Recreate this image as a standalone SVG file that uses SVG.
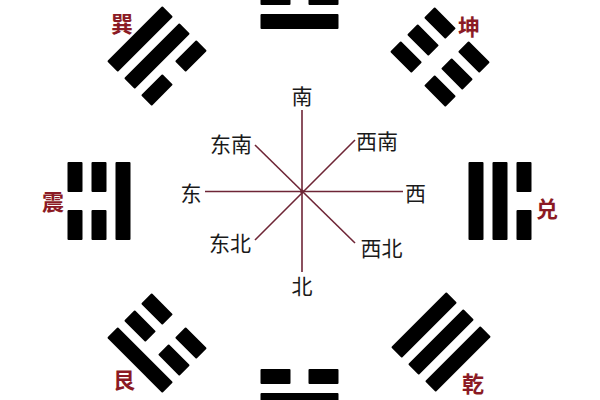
<svg xmlns="http://www.w3.org/2000/svg" xmlns:xlink="http://www.w3.org/1999/xlink" width="600" height="400" viewBox="0 0 600 400">
<style>
.bar{fill:#000}
.gua{font-family:"Noto Sans CJK SC","Noto Sans CJK TC",serif;font-size:22px;font-weight:bold;fill:#8b1a24;text-anchor:middle;dominant-baseline:central}
.dir{font-family:"Noto Sans CJK SC","Noto Sans",sans-serif;font-size:21px;fill:#1a1a1a;text-anchor:middle;dominant-baseline:central}
.ray{stroke:#6e2536;stroke-width:1.6;fill:none}
</style>
<defs>
<rect id="yang" class="bar" x="-39" y="-7.5" width="78" height="15" rx="1"/>
<g id="yin"><rect class="bar" x="-39" y="-7.5" width="30" height="15" rx="1"/><rect class="bar" x="9" y="-7.5" width="30" height="15" rx="1"/></g>
</defs>
<rect width="600" height="400" fill="#fff"/>
<g id="connectors">
<line class="ray" x1="302" y1="110" x2="302" y2="272"/>
<line class="ray" x1="205" y1="191.5" x2="403" y2="191.5"/>
<line class="ray" x1="255" y1="145" x2="355" y2="243"/>
<line class="ray" x1="355" y1="140" x2="255" y2="240"/>
<circle cx="302" cy="191.5" r="2" fill="#6e2536"/>
</g>
<g id="directions">
<text class="dir" x="302" y="95">南</text>
<text class="dir" x="231" y="142.5">东南</text>
<text class="dir" x="377" y="140">西南</text>
<text class="dir" x="191" y="192">东</text>
<text class="dir" x="415.5" y="192">西</text>
<text class="dir" x="230" y="242">东北</text>
<text class="dir" x="381.5" y="247">西北</text>
<text class="dir" x="302" y="285">北</text>
</g>
<g id="south" transform="translate(299.5,-2.5)">
<use xlink:href="#yin" y="0"/>
<use xlink:href="#yang" y="24"/>
</g>
<g id="north" transform="translate(299.5,400.5) rotate(180)">
<use xlink:href="#yang" y="0"/>
<use xlink:href="#yin" y="24"/>
</g>
<g id="zhen">
<g transform="translate(99,201) rotate(-90)">
<use xlink:href="#yin" y="-24"/>
<use xlink:href="#yin" y="0"/>
<use xlink:href="#yang" y="24"/>
</g>
<text class="gua" x="53" y="200">震</text>
</g>
<g id="dui">
<g transform="translate(500,201) rotate(90)">
<use xlink:href="#yin" y="-24"/>
<use xlink:href="#yang" y="0"/>
<use xlink:href="#yang" y="24"/>
</g>
<text class="gua" x="547" y="207">兑</text>
</g>
<g id="xun">
<g transform="translate(157,56) rotate(-45)">
<use xlink:href="#yang" y="-24"/>
<use xlink:href="#yang" y="0"/>
<use xlink:href="#yin" y="24"/>
</g>
<text class="gua" x="122" y="22">巽</text>
</g>
<g id="kun">
<g transform="translate(440,57) rotate(45)">
<use xlink:href="#yin" y="-24"/>
<use xlink:href="#yin" y="0"/>
<use xlink:href="#yin" y="24"/>
</g>
<text class="gua" x="469" y="25">坤</text>
</g>
<g id="gen">
<g transform="translate(157,343) rotate(-135)">
<use xlink:href="#yang" y="-24"/>
<use xlink:href="#yin" y="0"/>
<use xlink:href="#yin" y="24"/>
</g>
<text class="gua" x="124" y="378">艮</text>
</g>
<g id="qian">
<g transform="translate(441,342) rotate(135)">
<use xlink:href="#yang" y="-24"/>
<use xlink:href="#yang" y="0"/>
<use xlink:href="#yang" y="24"/>
</g>
<text class="gua" x="473" y="382">乾</text>
</g>
</svg>
